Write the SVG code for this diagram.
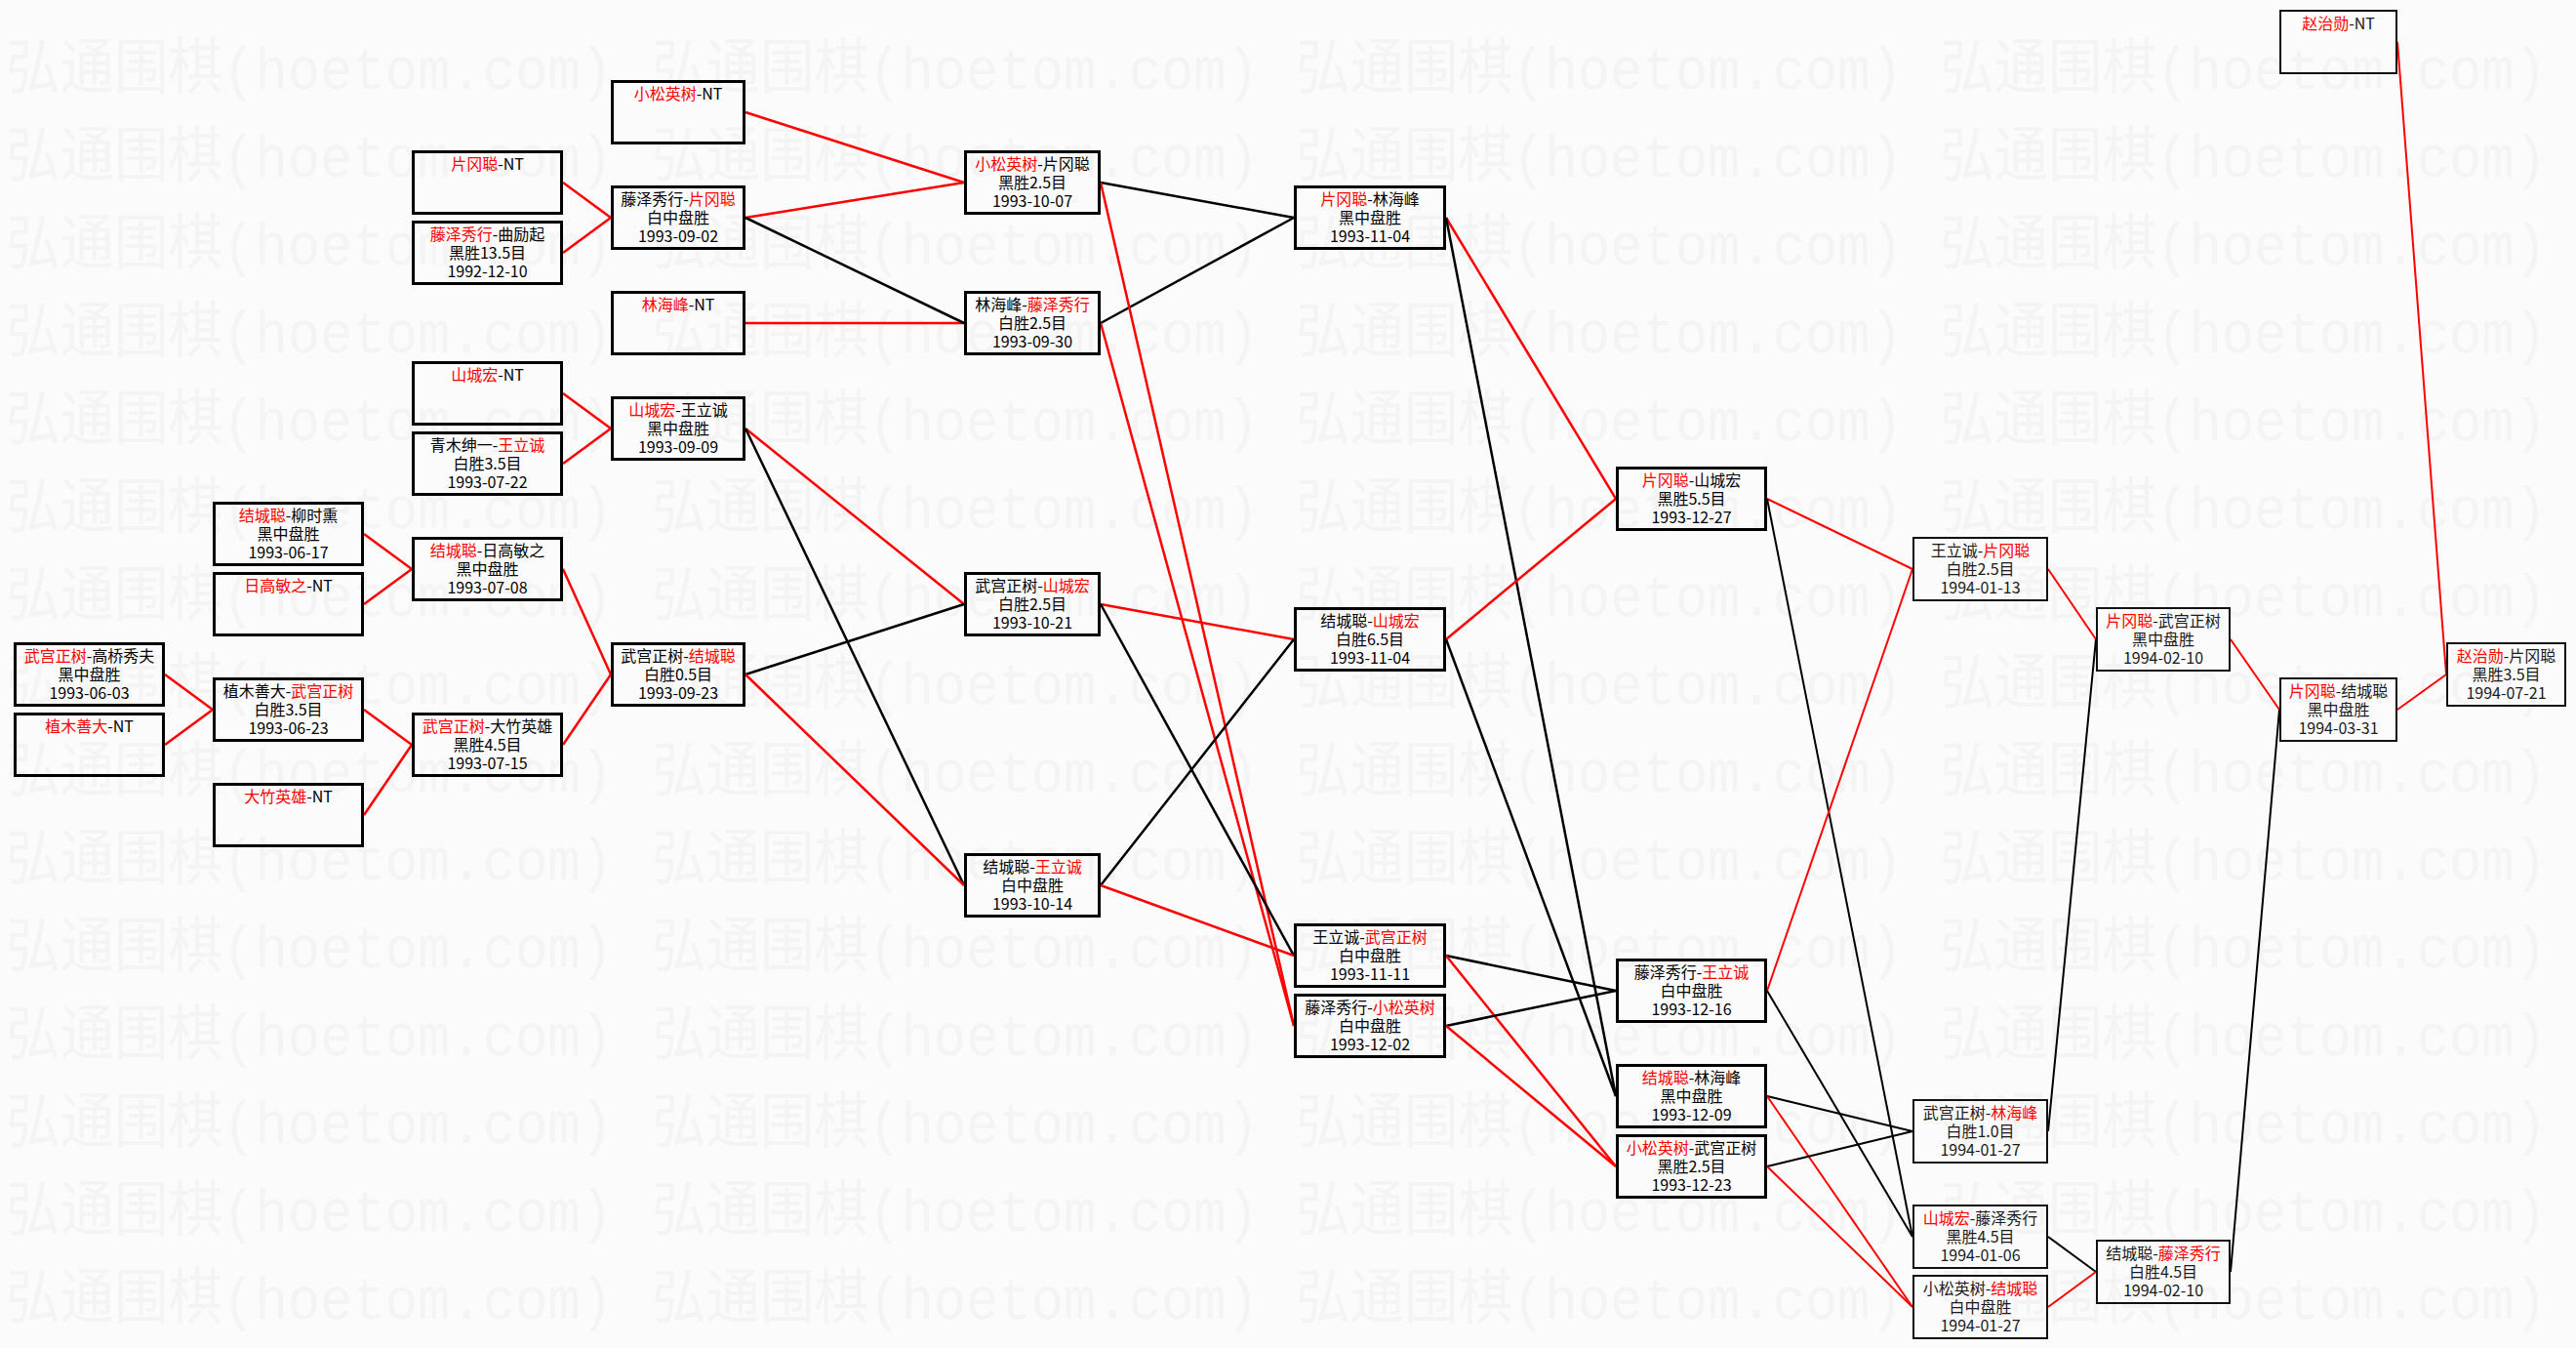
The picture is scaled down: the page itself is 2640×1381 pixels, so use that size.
<svg xmlns="http://www.w3.org/2000/svg" xmlns:xlink="http://www.w3.org/1999/xlink" width="2640" height="1381" viewBox="0 0 2640 1381">
<style>
.bx{fill:none;stroke:#000;stroke-width:3}
.bx2{fill:none;stroke:#111;stroke-width:2}
.t{font-family:"Noto Sans CJK SC",sans-serif;font-size:16px;fill:#000;text-anchor:middle}
.t2{font-family:"Noto Sans CJK SC",sans-serif;font-size:16px;fill:#1a1a1a;text-anchor:middle}
.r{fill:#f00}
.cr{stroke:#f00;stroke-width:2.5;fill:none}
.cb{stroke:#000;stroke-width:2.5;fill:none}
.cr2{stroke:#f00;stroke-width:2;fill:none}
.cb2{stroke:#000;stroke-width:2;fill:none}
.wm{font-family:"Liberation Mono","Noto Sans CJK SC",monospace;font-size:62px;fill:#f4f4f4}
</style>
<defs>
<text id="wm" class="wm" x="0" y="0" textLength="622" lengthAdjust="spacingAndGlyphs">弘通围棋(hoetom.com)</text>
</defs>
<rect x="0" y="0" width="2640" height="1381" fill="#fbfbfb"/>
<g id="watermark">
<use xlink:href="#wm" x="6" y="91"/><use xlink:href="#wm" x="668" y="91"/><use xlink:href="#wm" x="1328" y="91"/><use xlink:href="#wm" x="1988" y="91"/>
<use xlink:href="#wm" x="6" y="181"/><use xlink:href="#wm" x="668" y="181"/><use xlink:href="#wm" x="1328" y="181"/><use xlink:href="#wm" x="1988" y="181"/>
<use xlink:href="#wm" x="6" y="271"/><use xlink:href="#wm" x="668" y="271"/><use xlink:href="#wm" x="1328" y="271"/><use xlink:href="#wm" x="1988" y="271"/>
<use xlink:href="#wm" x="6" y="361"/><use xlink:href="#wm" x="668" y="361"/><use xlink:href="#wm" x="1328" y="361"/><use xlink:href="#wm" x="1988" y="361"/>
<use xlink:href="#wm" x="6" y="451"/><use xlink:href="#wm" x="668" y="451"/><use xlink:href="#wm" x="1328" y="451"/><use xlink:href="#wm" x="1988" y="451"/>
<use xlink:href="#wm" x="6" y="541"/><use xlink:href="#wm" x="668" y="541"/><use xlink:href="#wm" x="1328" y="541"/><use xlink:href="#wm" x="1988" y="541"/>
<use xlink:href="#wm" x="6" y="631"/><use xlink:href="#wm" x="668" y="631"/><use xlink:href="#wm" x="1328" y="631"/><use xlink:href="#wm" x="1988" y="631"/>
<use xlink:href="#wm" x="6" y="721"/><use xlink:href="#wm" x="668" y="721"/><use xlink:href="#wm" x="1328" y="721"/><use xlink:href="#wm" x="1988" y="721"/>
<use xlink:href="#wm" x="6" y="811"/><use xlink:href="#wm" x="668" y="811"/><use xlink:href="#wm" x="1328" y="811"/><use xlink:href="#wm" x="1988" y="811"/>
<use xlink:href="#wm" x="6" y="901"/><use xlink:href="#wm" x="668" y="901"/><use xlink:href="#wm" x="1328" y="901"/><use xlink:href="#wm" x="1988" y="901"/>
<use xlink:href="#wm" x="6" y="991"/><use xlink:href="#wm" x="668" y="991"/><use xlink:href="#wm" x="1328" y="991"/><use xlink:href="#wm" x="1988" y="991"/>
<use xlink:href="#wm" x="6" y="1081"/><use xlink:href="#wm" x="668" y="1081"/><use xlink:href="#wm" x="1328" y="1081"/><use xlink:href="#wm" x="1988" y="1081"/>
<use xlink:href="#wm" x="6" y="1171"/><use xlink:href="#wm" x="668" y="1171"/><use xlink:href="#wm" x="1328" y="1171"/><use xlink:href="#wm" x="1988" y="1171"/>
<use xlink:href="#wm" x="6" y="1261"/><use xlink:href="#wm" x="668" y="1261"/><use xlink:href="#wm" x="1328" y="1261"/><use xlink:href="#wm" x="1988" y="1261"/>
<use xlink:href="#wm" x="6" y="1351"/><use xlink:href="#wm" x="668" y="1351"/><use xlink:href="#wm" x="1328" y="1351"/><use xlink:href="#wm" x="1988" y="1351"/>
</g>
<g id="connectors">
<line class="cr" x1="169" y1="691" x2="218" y2="727"/>
<line class="cr" x1="169" y1="763" x2="218" y2="727"/>
<line class="cr" x1="373" y1="547" x2="422" y2="583"/>
<line class="cr" x1="373" y1="619" x2="422" y2="583"/>
<line class="cr" x1="373" y1="727" x2="422" y2="763"/>
<line class="cr" x1="373" y1="835" x2="422" y2="763"/>
<line class="cr" x1="577" y1="187" x2="626" y2="223"/>
<line class="cr" x1="577" y1="259" x2="626" y2="223"/>
<line class="cr" x1="577" y1="403" x2="626" y2="439"/>
<line class="cr" x1="577" y1="475" x2="626" y2="439"/>
<line class="cr" x1="577" y1="583" x2="626" y2="691"/>
<line class="cr" x1="577" y1="763" x2="626" y2="691"/>
<line class="cr" x1="764" y1="115" x2="988" y2="187"/>
<line class="cr" x1="764" y1="223" x2="988" y2="187"/>
<line class="cr" x1="764" y1="331" x2="988" y2="331"/>
<line class="cb" x1="764" y1="223" x2="988" y2="331"/>
<line class="cr" x1="764" y1="439" x2="988" y2="619"/>
<line class="cb" x1="764" y1="439" x2="988" y2="907"/>
<line class="cb" x1="764" y1="691" x2="988" y2="619"/>
<line class="cr" x1="764" y1="691" x2="988" y2="907"/>
<line class="cb" x1="1128" y1="187" x2="1326" y2="223"/>
<line class="cb" x1="1128" y1="331" x2="1326" y2="223"/>
<line class="cr" x1="1128" y1="187" x2="1326" y2="1051"/>
<line class="cr" x1="1128" y1="331" x2="1326" y2="1051"/>
<line class="cr" x1="1128" y1="619" x2="1326" y2="655"/>
<line class="cb" x1="1128" y1="619" x2="1326" y2="979"/>
<line class="cb" x1="1128" y1="907" x2="1326" y2="655"/>
<line class="cr" x1="1128" y1="907" x2="1326" y2="979"/>
<line class="cr" x1="1482" y1="223" x2="1656" y2="511"/>
<line class="cb" x1="1482" y1="223" x2="1656" y2="1123"/>
<line class="cr" x1="1482" y1="655" x2="1656" y2="511"/>
<line class="cb" x1="1482" y1="655" x2="1656" y2="1123"/>
<line class="cb" x1="1482" y1="979" x2="1656" y2="1015"/>
<line class="cr" x1="1482" y1="979" x2="1656" y2="1195"/>
<line class="cb" x1="1482" y1="1051" x2="1656" y2="1015"/>
<line class="cr" x1="1482" y1="1051" x2="1656" y2="1195"/>
<line class="cr2" x1="1811" y1="511" x2="1960" y2="583"/>
<line class="cb2" x1="1811" y1="511" x2="1960" y2="1267"/>
<line class="cr2" x1="1811" y1="1015" x2="1960" y2="583"/>
<line class="cb2" x1="1811" y1="1015" x2="1960" y2="1267"/>
<line class="cb2" x1="1811" y1="1123" x2="1960" y2="1159"/>
<line class="cr2" x1="1811" y1="1123" x2="1960" y2="1339"/>
<line class="cb2" x1="1811" y1="1195" x2="1960" y2="1159"/>
<line class="cr2" x1="1811" y1="1195" x2="1960" y2="1339"/>
<line class="cr2" x1="2099" y1="583" x2="2148" y2="655"/>
<line class="cb2" x1="2099" y1="1159" x2="2148" y2="655"/>
<line class="cb2" x1="2099" y1="1267" x2="2148" y2="1303"/>
<line class="cr2" x1="2099" y1="1339" x2="2148" y2="1303"/>
<line class="cr2" x1="2286" y1="655" x2="2336" y2="727"/>
<line class="cb2" x1="2286" y1="1303" x2="2336" y2="727"/>
<line class="cr2" x1="2457" y1="727" x2="2507" y2="691"/>
<line class="cr2" x1="2457" y1="43" x2="2507" y2="691"/>
</g>
<g id="n-a1"><rect class="bx" x="15.5" y="659.5" width="152" height="63"/><text class="t" x="91.5" y="678"><tspan class="r">武宫正树</tspan>-高桥秀夫</text><text class="t" x="91.5" y="697">黑中盘胜</text><text class="t" x="91.5" y="716">1993-06-03</text></g>
<g id="n-a2"><rect class="bx" x="15.5" y="731.5" width="152" height="63"/><text class="t" x="91.5" y="750"><tspan class="r">植木善大</tspan>-NT</text></g>
<g id="n-b1"><rect class="bx" x="219.5" y="515.5" width="152" height="63"/><text class="t" x="295.5" y="534"><tspan class="r">结城聪</tspan>-柳时熏</text><text class="t" x="295.5" y="553">黑中盘胜</text><text class="t" x="295.5" y="572">1993-06-17</text></g>
<g id="n-b2"><rect class="bx" x="219.5" y="587.5" width="152" height="63"/><text class="t" x="295.5" y="606"><tspan class="r">日高敏之</tspan>-NT</text></g>
<g id="n-b3"><rect class="bx" x="219.5" y="695.5" width="152" height="63"/><text class="t" x="295.5" y="714">植木善大-<tspan class="r">武宫正树</tspan></text><text class="t" x="295.5" y="733">白胜3.5目</text><text class="t" x="295.5" y="752">1993-06-23</text></g>
<g id="n-b4"><rect class="bx" x="219.5" y="803.5" width="152" height="63"/><text class="t" x="295.5" y="822"><tspan class="r">大竹英雄</tspan>-NT</text></g>
<g id="n-c1"><rect class="bx" x="423.5" y="155.5" width="152" height="63"/><text class="t" x="499.5" y="174"><tspan class="r">片冈聪</tspan>-NT</text></g>
<g id="n-c2"><rect class="bx" x="423.5" y="227.5" width="152" height="63"/><text class="t" x="499.5" y="246"><tspan class="r">藤泽秀行</tspan>-曲励起</text><text class="t" x="499.5" y="265">黑胜13.5目</text><text class="t" x="499.5" y="284">1992-12-10</text></g>
<g id="n-c3"><rect class="bx" x="423.5" y="371.5" width="152" height="63"/><text class="t" x="499.5" y="390"><tspan class="r">山城宏</tspan>-NT</text></g>
<g id="n-c4"><rect class="bx" x="423.5" y="443.5" width="152" height="63"/><text class="t" x="499.5" y="462">青木绅一-<tspan class="r">王立诚</tspan></text><text class="t" x="499.5" y="481">白胜3.5目</text><text class="t" x="499.5" y="500">1993-07-22</text></g>
<g id="n-c5"><rect class="bx" x="423.5" y="551.5" width="152" height="63"/><text class="t" x="499.5" y="570"><tspan class="r">结城聪</tspan>-日高敏之</text><text class="t" x="499.5" y="589">黑中盘胜</text><text class="t" x="499.5" y="608">1993-07-08</text></g>
<g id="n-c6"><rect class="bx" x="423.5" y="731.5" width="152" height="63"/><text class="t" x="499.5" y="750"><tspan class="r">武宫正树</tspan>-大竹英雄</text><text class="t" x="499.5" y="769">黑胜4.5目</text><text class="t" x="499.5" y="788">1993-07-15</text></g>
<g id="n-d1"><rect class="bx" x="627.5" y="83.5" width="135" height="63"/><text class="t" x="695" y="102"><tspan class="r">小松英树</tspan>-NT</text></g>
<g id="n-d2"><rect class="bx" x="627.5" y="191.5" width="135" height="63"/><text class="t" x="695" y="210">藤泽秀行-<tspan class="r">片冈聪</tspan></text><text class="t" x="695" y="229">白中盘胜</text><text class="t" x="695" y="248">1993-09-02</text></g>
<g id="n-d3"><rect class="bx" x="627.5" y="299.5" width="135" height="63"/><text class="t" x="695" y="318"><tspan class="r">林海峰</tspan>-NT</text></g>
<g id="n-d4"><rect class="bx" x="627.5" y="407.5" width="135" height="63"/><text class="t" x="695" y="426"><tspan class="r">山城宏</tspan>-王立诚</text><text class="t" x="695" y="445">黑中盘胜</text><text class="t" x="695" y="464">1993-09-09</text></g>
<g id="n-d5"><rect class="bx" x="627.5" y="659.5" width="135" height="63"/><text class="t" x="695" y="678">武宫正树-<tspan class="r">结城聪</tspan></text><text class="t" x="695" y="697">白胜0.5目</text><text class="t" x="695" y="716">1993-09-23</text></g>
<g id="n-e1"><rect class="bx" x="989.5" y="155.5" width="137" height="63"/><text class="t" x="1058" y="174"><tspan class="r">小松英树</tspan>-片冈聪</text><text class="t" x="1058" y="193">黑胜2.5目</text><text class="t" x="1058" y="212">1993-10-07</text></g>
<g id="n-e2"><rect class="bx" x="989.5" y="299.5" width="137" height="63"/><text class="t" x="1058" y="318">林海峰-<tspan class="r">藤泽秀行</tspan></text><text class="t" x="1058" y="337">白胜2.5目</text><text class="t" x="1058" y="356">1993-09-30</text></g>
<g id="n-e3"><rect class="bx" x="989.5" y="587.5" width="137" height="63"/><text class="t" x="1058" y="606">武宫正树-<tspan class="r">山城宏</tspan></text><text class="t" x="1058" y="625">白胜2.5目</text><text class="t" x="1058" y="644">1993-10-21</text></g>
<g id="n-e4"><rect class="bx" x="989.5" y="875.5" width="137" height="63"/><text class="t" x="1058" y="894">结城聪-<tspan class="r">王立诚</tspan></text><text class="t" x="1058" y="913">白中盘胜</text><text class="t" x="1058" y="932">1993-10-14</text></g>
<g id="n-f1"><rect class="bx" x="1327.5" y="191.5" width="153" height="63"/><text class="t" x="1404" y="210"><tspan class="r">片冈聪</tspan>-林海峰</text><text class="t" x="1404" y="229">黑中盘胜</text><text class="t" x="1404" y="248">1993-11-04</text></g>
<g id="n-f2"><rect class="bx" x="1327.5" y="623.5" width="153" height="63"/><text class="t" x="1404" y="642">结城聪-<tspan class="r">山城宏</tspan></text><text class="t" x="1404" y="661">白胜6.5目</text><text class="t" x="1404" y="680">1993-11-04</text></g>
<g id="n-f3"><rect class="bx" x="1327.5" y="947.5" width="153" height="63"/><text class="t" x="1404" y="966">王立诚-<tspan class="r">武宫正树</tspan></text><text class="t" x="1404" y="985">白中盘胜</text><text class="t" x="1404" y="1004">1993-11-11</text></g>
<g id="n-f4"><rect class="bx" x="1327.5" y="1019.5" width="153" height="63"/><text class="t" x="1404" y="1038">藤泽秀行-<tspan class="r">小松英树</tspan></text><text class="t" x="1404" y="1057">白中盘胜</text><text class="t" x="1404" y="1076">1993-12-02</text></g>
<g id="n-g1"><rect class="bx" x="1657.5" y="479.5" width="152" height="63"/><text class="t" x="1733.5" y="498"><tspan class="r">片冈聪</tspan>-山城宏</text><text class="t" x="1733.5" y="517">黑胜5.5目</text><text class="t" x="1733.5" y="536">1993-12-27</text></g>
<g id="n-g2"><rect class="bx" x="1657.5" y="983.5" width="152" height="63"/><text class="t" x="1733.5" y="1002">藤泽秀行-<tspan class="r">王立诚</tspan></text><text class="t" x="1733.5" y="1021">白中盘胜</text><text class="t" x="1733.5" y="1040">1993-12-16</text></g>
<g id="n-g3"><rect class="bx" x="1657.5" y="1091.5" width="152" height="63"/><text class="t" x="1733.5" y="1110"><tspan class="r">结城聪</tspan>-林海峰</text><text class="t" x="1733.5" y="1129">黑中盘胜</text><text class="t" x="1733.5" y="1148">1993-12-09</text></g>
<g id="n-g4"><rect class="bx" x="1657.5" y="1163.5" width="152" height="63"/><text class="t" x="1733.5" y="1182"><tspan class="r">小松英树</tspan>-武宫正树</text><text class="t" x="1733.5" y="1201">黑胜2.5目</text><text class="t" x="1733.5" y="1220">1993-12-23</text></g>
<g id="n-h1"><rect class="bx2" x="1961" y="551" width="137" height="64"/><text class="t2" x="2029.5" y="570">王立诚-<tspan class="r">片冈聪</tspan></text><text class="t2" x="2029.5" y="589">白胜2.5目</text><text class="t2" x="2029.5" y="608">1994-01-13</text></g>
<g id="n-h2"><rect class="bx2" x="1961" y="1127" width="137" height="64"/><text class="t2" x="2029.5" y="1146">武宫正树-<tspan class="r">林海峰</tspan></text><text class="t2" x="2029.5" y="1165">白胜1.0目</text><text class="t2" x="2029.5" y="1184">1994-01-27</text></g>
<g id="n-h3"><rect class="bx2" x="1961" y="1235" width="137" height="64"/><text class="t2" x="2029.5" y="1254"><tspan class="r">山城宏</tspan>-藤泽秀行</text><text class="t2" x="2029.5" y="1273">黑胜4.5目</text><text class="t2" x="2029.5" y="1292">1994-01-06</text></g>
<g id="n-h4"><rect class="bx2" x="1961" y="1307" width="137" height="64"/><text class="t2" x="2029.5" y="1326">小松英树-<tspan class="r">结城聪</tspan></text><text class="t2" x="2029.5" y="1345">白中盘胜</text><text class="t2" x="2029.5" y="1364">1994-01-27</text></g>
<g id="n-i1"><rect class="bx2" x="2149" y="623" width="136" height="64"/><text class="t2" x="2217" y="642"><tspan class="r">片冈聪</tspan>-武宫正树</text><text class="t2" x="2217" y="661">黑中盘胜</text><text class="t2" x="2217" y="680">1994-02-10</text></g>
<g id="n-i2"><rect class="bx2" x="2149" y="1271" width="136" height="64"/><text class="t2" x="2217" y="1290">结城聪-<tspan class="r">藤泽秀行</tspan></text><text class="t2" x="2217" y="1309">白胜4.5目</text><text class="t2" x="2217" y="1328">1994-02-10</text></g>
<g id="n-j1"><rect class="bx2" x="2337" y="11" width="119" height="64"/><text class="t2" x="2396.5" y="30"><tspan class="r">赵治勋</tspan>-NT</text></g>
<g id="n-j2"><rect class="bx2" x="2337" y="695" width="119" height="64"/><text class="t2" x="2396.5" y="714"><tspan class="r">片冈聪</tspan>-结城聪</text><text class="t2" x="2396.5" y="733">黑中盘胜</text><text class="t2" x="2396.5" y="752">1994-03-31</text></g>
<g id="n-k1"><rect class="bx2" x="2508" y="659" width="121" height="64"/><text class="t2" x="2568.5" y="678"><tspan class="r">赵治勋</tspan>-片冈聪</text><text class="t2" x="2568.5" y="697">黑胜3.5目</text><text class="t2" x="2568.5" y="716">1994-07-21</text></g>
</svg>
